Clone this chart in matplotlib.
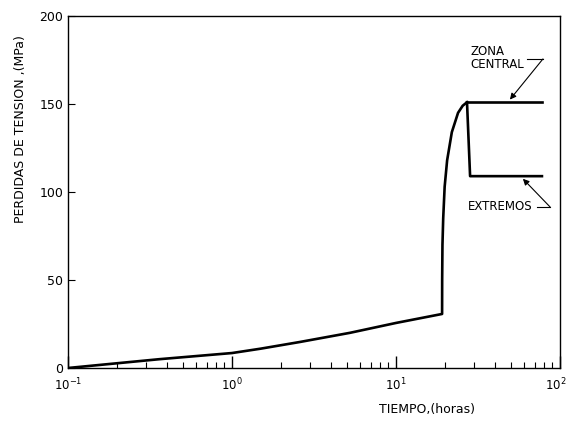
import matplotlib
matplotlib.use("Agg")
import matplotlib.pyplot as plt
import matplotlib.transforms as mtransforms
from matplotlib.ticker import LogLocator, NullFormatter, FixedLocator

# Data
t_main = [0.1, 0.18, 0.36, 1.0, 1.5, 2.6, 5.25, 10.0, 19.1, 19.12, 19.2, 19.4, 19.8, 20.5, 21.9, 23.9, 25.5, 27.1]
v_main = [0, 2.3, 5.0, 8.5, 11.0, 14.8, 20.0, 25.6, 30.7, 50, 70, 85, 103, 118, 134, 145, 149, 151]
t_central = [27.1, 77.6]
v_central = [151, 151]
t_extremos = [27.1, 28.3, 77.6]
v_extremos = [151, 109, 109]

yticks = [0, 50, 100, 150, 200]
xticks = [0.1, 1, 10, 100]
xticklabels = [r"$10^{-1}$", r"$10^{0}$", r"$10^{1}$", r"$10^{2}$"]

fig = plt.figure(figsize=(5.69, 4.21), dpi=100)
ax = fig.add_axes([68/569, 53/421, (560-68)/569, (368-16)/421])

ax.plot(t_main, v_main, color="black", lw=1.9, solid_joinstyle="round")
ax.plot(t_central, v_central, color="black", lw=1.9)
ax.plot(t_extremos, v_extremos, color="black", lw=1.9)

ax.set_xscale("log")
ax.set_xlim(0.1, 100)
ax.set_ylim(0, 200)

ax.xaxis.set_major_locator(FixedLocator(xticks))
ax.set_xticklabels(xticklabels)
ax.xaxis.set_minor_locator(LogLocator(base=10, subs=range(2, 10)))
ax.xaxis.set_minor_formatter(NullFormatter())
ax.set_yticks(yticks)
ax.set_yticklabels([str(v) for v in yticks])

ax.tick_params(axis="x", which="major", direction="in", length=9, width=1, labelsize=8.5, pad=6)
ax.tick_params(axis="x", which="minor", direction="in", length=4, width=0.8)
ax.tick_params(axis="y", which="major", direction="in", length=5, width=0.8, labelsize=9)
for s in ax.spines.values():
    s.set_linewidth(1.0)

# shift last x tick label slightly left so it stays inside the figure
last = ax.get_xticklabels()[-1]
last.set_transform(last.get_transform() + mtransforms.ScaledTranslation(-4/100, 0, fig.dpi_scale_trans))

ax.set_xlabel("TIEMPO,(horas)", fontsize=9)
ax.xaxis.set_label_coords(0.73, -0.1)
ax.set_ylabel("PERDIDAS DE TENSION ,(MPa)", fontsize=9)
ax.yaxis.set_label_coords(-0.083, 0.68)

# Annotations
ax.text(28.3, 176, "ZONA\nCENTRAL", fontsize=8.5, ha="left", va="center", linespacing=1.0)
ax.plot([63, 78.7], [175.6, 175.6], color="black", lw=0.8)
ax.annotate("", xy=(49.5, 152.5), xytext=(78.7, 175.6),
            arrowprops=dict(arrowstyle="-|>", color="black", lw=0.8, mutation_scale=9, shrinkA=0, shrinkB=0))

ax.text(27.5, 91.5, "EXTREMOS", fontsize=8.5, ha="left", va="center")
ax.plot([72.4, 87], [91.5, 91.5], color="black", lw=0.8)
ax.annotate("", xy=(59.4, 107.5), xytext=(87, 91.5),
            arrowprops=dict(arrowstyle="-|>", color="black", lw=0.8, mutation_scale=9, shrinkA=0, shrinkB=0))

fig.savefig("out.png", dpi=100)
